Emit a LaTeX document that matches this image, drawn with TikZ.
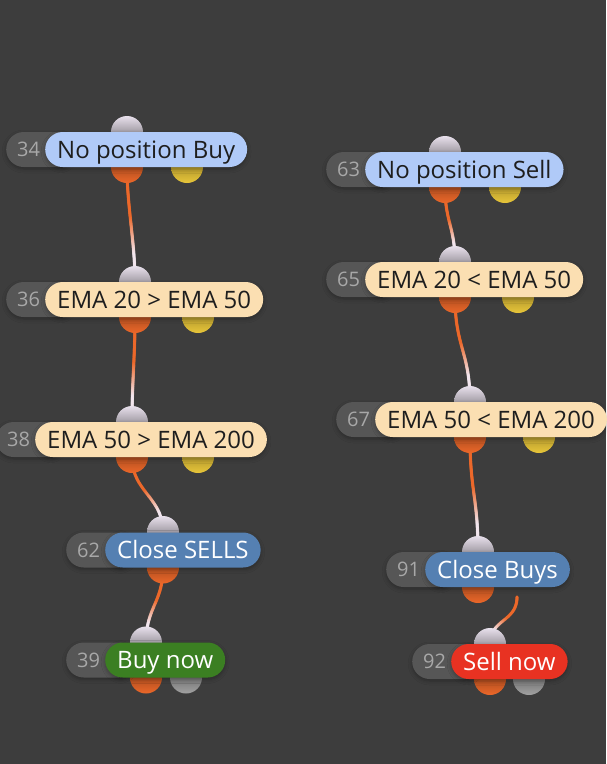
\documentclass[tikz,border=0pt]{standalone}
\usepackage{fontspec}
\setmainfont{Open Sans}
\usetikzlibrary{decorations.markings, shadows.blur}
\definecolor{canvasgray}{HTML}{3D3D3D}
\definecolor{badgegray}{HTML}{565656}
\definecolor{numgray}{HTML}{A8A8A8}
\definecolor{darktext}{HTML}{1E1E1E}
\definecolor{startblue}{HTML}{B0CAF8}
\definecolor{condcream}{HTML}{FBDFB2}
\definecolor{closeblue}{HTML}{5580B2}
\definecolor{buygreen}{HTML}{3B7F22}
\definecolor{sellred}{HTML}{E83222}
\definecolor{portorange}{HTML}{EC682A}
\definecolor{portyellow}{HTML}{E8C63A}
\definecolor{portgray}{HTML}{A2A2A2}
\definecolor{portlilac}{HTML}{E8E0EC}
\definecolor{wiretail}{HTML}{F2E6EE}

\pgfdeclarelayer{canvas}
\pgfdeclarelayer{wires}
\pgfdeclarelayer{ports}
\pgfsetlayers{canvas,wires,ports,main}

\begin{document}
\begin{tikzpicture}[
  x=1pt, y=-1pt,
  softshadow/.style={blur shadow={shadow xshift=0pt, shadow yshift=-2pt,
    shadow blur radius=4pt, shadow opacity=30}},
  badge/.style={
    fill=badgegray, rounded corners=17.5pt, minimum height=35pt,
    text width=48pt, align=left, inner xsep=11pt, inner ysep=0pt,
    text height=18pt, text depth=3.4pt, anchor=west,
    font=\fontsize{20}{24}\selectfont, text=numgray, softshadow
  },
  pill/.style={
    rounded corners=17.5pt, minimum height=35pt,
    inner xsep=12pt, inner ysep=0pt, text height=23pt, text depth=5.4pt,
    anchor=west, font=\fontsize{24}{28}\selectfont, softshadow
  },
  startpill/.style={pill, fill=startblue, text=darktext},
  condpill/.style={pill, fill=condcream, text=darktext},
  closepill/.style={pill, fill=closeblue, text=white},
  buypill/.style={pill, fill=buygreen, text=white},
  sellpill/.style={pill, fill=sellred, text=white},
  port/.style={circle, minimum size=32pt, inner sep=0pt},
  inport/.style={port, top color=portlilac, bottom color=portlilac!40!black,
    middle color=portlilac!70!black},
  outport/.style={port, top color=portorange!40!black, bottom color=portorange,
    middle color=portorange!75!black},
  yesport/.style={port, top color=portyellow!40!black, bottom color=portyellow,
    middle color=portyellow!78!black},
  endport/.style={port, top color=portgray!40!black, bottom color=portgray,
    middle color=portgray!72!black},
  % orange at the source end, pale at the target end
  wire/.style={postaction=decorate, decoration={markings,
    mark=between positions 0 and 1 step 0.6pt with {
      \pgfmathsetmacro\wpct{max(0,min(100,100*(0.76-\pgfkeysvalueof{/pgf/decoration/mark info/distance from start}/\pgfdecoratedpathlength)/0.32))}
      \fill[portorange!\wpct!wiretail] (0,0) circle (1.65pt);
    }}},
]
\useasboundingbox (0,0) rectangle (606,764);

% left chain: buy side
\node[badge]     (b34) at (6,149.5)   {34};
\node[startpill] (p34) at (45,149.5)  {No position Buy};
\node[badge]     (b36) at (6,299.5)   {36};
\node[condpill]  (p36) at (45,299.5)  {EMA 20 > EMA 50};
\node[badge]     (b38) at (-4,439.5)  {38};
\node[condpill]  (p38) at (35,439.5)  {EMA 50 > EMA 200};
\node[badge]     (b62) at (66,550)    {62};
\node[closepill] (p62) at (105,550)   {Close SELLS};
\node[badge]     (b39) at (66,660)    {39};
\node[buypill]   (p39) at (105,660)   {Buy now};

% right chain: sell side
\node[badge]     (b63) at (326,169.5) {63};
\node[startpill] (p63) at (365,169.5) {No position Sell};
\node[badge]     (b65) at (326,279.5) {65};
\node[condpill]  (p65) at (365,279.5) {EMA 20 < EMA 50};
\node[badge]     (b67) at (336,419.5) {67};
\node[condpill]  (p67) at (375,419.5) {EMA 50 < EMA 200};
\node[badge]     (b91) at (386,569.5) {91};
\node[closepill] (p91) at (425,569.5) {Close Buys};
\node[badge]     (b92) at (412,661.5) {92};
\node[sellpill]  (p92) at (451,661.5) {Sell now};

\begin{pgfonlayer}{ports}
\node[inport]  (i34) at (127,132) {};
\node[outport] (o34) at (127,167) {};
\node[yesport] (y34) at (187,167) {};
\node[inport]  (i36) at (135,282) {};
\node[outport] (o36) at (135,317) {};
\node[yesport] (y36) at (198,317) {};
\node[inport]  (i38) at (132,422) {};
\node[outport] (o38) at (132,457) {};
\node[yesport] (y38) at (198,457) {};
\node[inport]  (i62) at (163,532) {};
\node[outport] (o62) at (163,567.5) {};
\node[inport]  (i39) at (146,642.5) {};
\node[outport] (o39) at (146,677.5) {};
\node[endport] (e39) at (186,677.5) {};

\node[inport]  (i63) at (445,152) {};
\node[outport] (o63) at (445,187) {};
\node[yesport] (y63) at (505,187) {};
\node[inport]  (i65) at (455,262) {};
\node[outport] (o65) at (455,297) {};
\node[yesport] (y65) at (518,297) {};
\node[inport]  (i67) at (470,402) {};
\node[outport] (o67) at (470,437) {};
\node[yesport] (y67) at (539,437) {};
\node[inport]  (i91) at (478,552) {};
\node[outport] (o91) at (478,587) {};
\node[inport]  (i92) at (490,644) {};
\node[outport] (o92) at (490,679) {};
\node[endport] (e92) at (529,679) {};
\end{pgfonlayer}

\coordinate (w91) at (517,597);

\begin{pgfonlayer}{wires}
\path[wire] (o34.center) .. controls +(0,40) and +(0,-40) .. (i36.center);
\path[wire] (o36.center) .. controls +(0,40) and +(0,-40) .. (i38.center);
\path[wire] (o38.center) .. controls +(0,35) and +(0,-35) .. (i62.center);
\path[wire] (o62.center) .. controls +(0,35) and +(0,-35) .. (i39.center);
\path[wire] (o63.center) .. controls +(0,35) and +(0,-35) .. (i65.center);
\path[wire] (o65.center) .. controls +(0,50) and +(0,-50) .. (i67.center);
\path[wire] (o67.center) .. controls +(0,55) and +(0,-55) .. (i91.center);
\path[wire] (w91) .. controls +(0,25) and +(0,-25) .. (i92.center);
\end{pgfonlayer}

\begin{pgfonlayer}{canvas}
\fill[canvasgray] (0,0) rectangle (606,764);
\end{pgfonlayer}

\end{tikzpicture}
\end{document}
